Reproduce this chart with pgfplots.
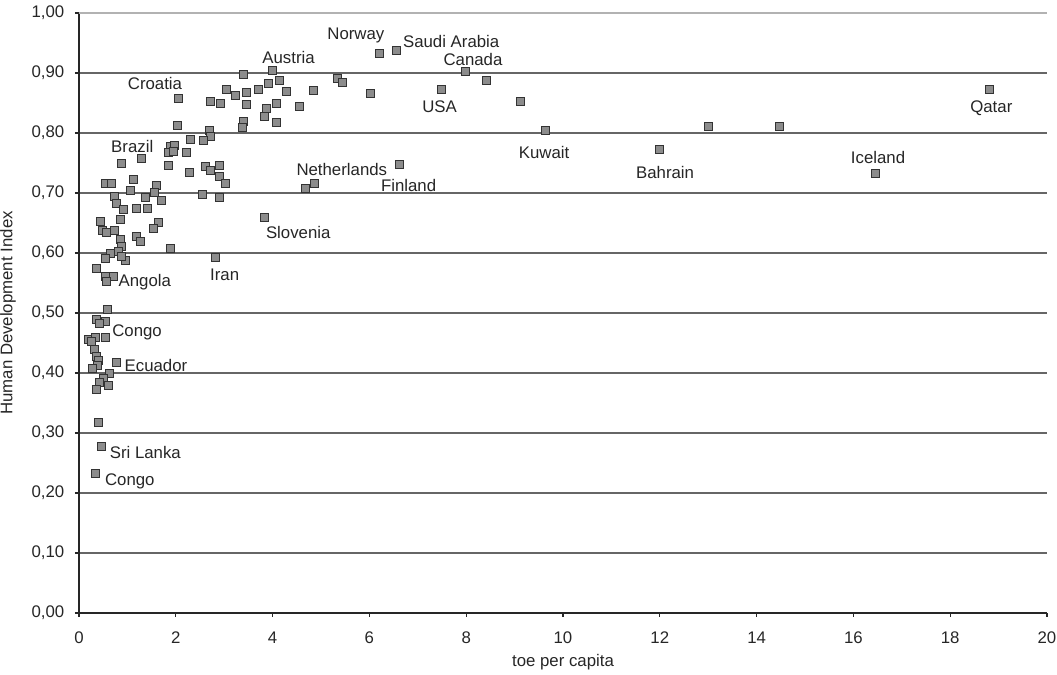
\documentclass[border=0pt]{standalone}
\usepackage{fontspec}
\setmainfont{Liberation Sans}
\usepackage{pgfplots}
\pgfplotsset{compat=1.18}

\pgfplotstableread{
x y
3.40 0.898
3.99 0.905
2.05 0.857
3.04 0.872
3.24 0.862
3.46 0.867
3.46 0.848
2.72 0.852
2.93 0.849
3.71 0.873
3.92 0.883
4.15 0.887
4.28 0.869
4.84 0.871
5.33 0.891
5.45 0.885
6.03 0.866
6.20 0.933
6.55 0.938
7.99 0.902
8.41 0.887
7.49 0.873
9.11 0.852
4.55 0.845
3.88 0.841
4.07 0.849
3.84 0.827
4.07 0.817
2.03 0.813
3.40 0.819
3.38 0.809
2.69 0.805
2.72 0.794
2.57 0.787
2.31 0.789
1.88 0.777
1.98 0.780
1.85 0.767
1.96 0.769
2.21 0.767
1.84 0.746
2.28 0.734
2.62 0.744
2.72 0.738
2.91 0.746
2.90 0.727
3.02 0.716
2.55 0.698
2.90 0.693
4.86 0.716
4.67 0.708
6.61 0.747
3.83 0.659
2.81 0.593
1.88 0.607
9.63 0.805
12.00 0.773
13.00 0.811
14.48 0.811
16.45 0.732
18.82 0.873
0.88 0.749
1.28 0.757
0.54 0.716
0.67 0.716
1.12 0.723
1.07 0.704
0.74 0.694
0.78 0.683
1.37 0.693
1.42 0.674
1.60 0.713
1.56 0.701
1.70 0.687
0.92 0.672
1.19 0.674
0.86 0.656
0.45 0.652
1.64 0.651
1.54 0.641
0.49 0.638
0.57 0.634
0.74 0.638
0.86 0.623
0.88 0.611
1.19 0.627
1.26 0.619
0.64 0.600
0.81 0.602
0.95 0.587
0.88 0.594
0.54 0.591
0.36 0.574
0.54 0.561
0.71 0.561
0.57 0.552
0.59 0.506
0.35 0.489
0.54 0.486
0.42 0.483
0.20 0.456
0.34 0.460
0.54 0.460
0.25 0.452
0.31 0.440
0.36 0.427
0.41 0.421
0.37 0.412
0.27 0.407
0.78 0.417
0.63 0.400
0.50 0.391
0.61 0.380
0.42 0.384
0.35 0.373
0.40 0.317
0.47 0.277
0.33 0.233
}\hdi

\begin{document}
\begin{tikzpicture}[font=\fontsize{8.4}{10}\selectfont]
\begin{axis}[
    scale only axis,
    width=484pt, height=300pt,
    xmin=0, xmax=20, ymin=0, ymax=1,
    xtick={0,2,...,20},
    ytick={0,0.1,...,1.0},
    axis x line=bottom, axis y line=left,
    axis line style={-, black!85, line width=0.7pt},
    tick align=outside,
    major tick length=2pt,
    tick style={black!85, line width=0.6pt},
    ymajorgrids,
    major grid style={black!60, line width=0.6pt},
    /pgf/number format/assume math mode=true,
    ticklabel style={text=black!85},
    xticklabel style={yshift=-3.8pt},
    yticklabel style={xshift=-1.8pt,
        /pgf/number format/fixed,
        /pgf/number format/fixed zerofill,
        /pgf/number format/precision=2,
        /pgf/number format/use comma},
    xlabel={toe per capita},
    ylabel={Human Development Index},
    xlabel style={at={(axis description cs:0.5,0)}, anchor=center, yshift=-24.5pt, text=black!85},
    ylabel style={at={(axis description cs:0,0.5)}, anchor=center, yshift=35.5pt, text=black!85},
    clip=false,
]
\draw[black!30, line width=1.4pt] (axis cs:0,1) -- (axis cs:20,1);
\addplot[only marks, mark=square*, mark size=2pt,
    mark options={fill=black!45, draw=black!80, line width=0.4pt}] table[x=x, y=y] {\hdi};

\begin{scope}[every node/.style={text=black!85}]
\node at (axis cs:5.72,0.962) {Norway};
\node at (axis cs:7.69,0.953) {Saudi Arabia};
\node at (axis cs:8.14,0.923) {Canada};
\node at (axis cs:7.45,0.843) {USA};
\node at (axis cs:5.43,0.740) {Netherlands};
\node at (axis cs:6.81,0.713) {Finland};
\node at (axis cs:9.61,0.768) {Kuwait};
\node at (axis cs:12.11,0.735) {Bahrain};
\node at (axis cs:16.51,0.760) {Iceland};
\node at (axis cs:18.85,0.841) {Qatar};
\node at (axis cs:4.33,0.926) {Austria};
\node at (axis cs:1.57,0.882) {Croatia};
\node at (axis cs:1.10,0.778) {Brazil};
\node at (axis cs:4.53,0.635) {Slovenia};
\node at (axis cs:3.01,0.563) {Iran};
\node at (axis cs:1.36,0.552) {Angola};
\node at (axis cs:1.20,0.467) {Congo};
\node at (axis cs:1.59,0.413) {Ecuador};
\node at (axis cs:1.37,0.267) {Sri Lanka};
\node at (axis cs:1.05,0.219) {Congo};
\end{scope}
\end{axis}
\pgfresetboundingbox
\path ([xshift=-39.5pt,yshift=-31pt]current axis.south west) rectangle ([xshift=5pt,yshift=6.5pt]current axis.north east);
\end{tikzpicture}
\end{document}
